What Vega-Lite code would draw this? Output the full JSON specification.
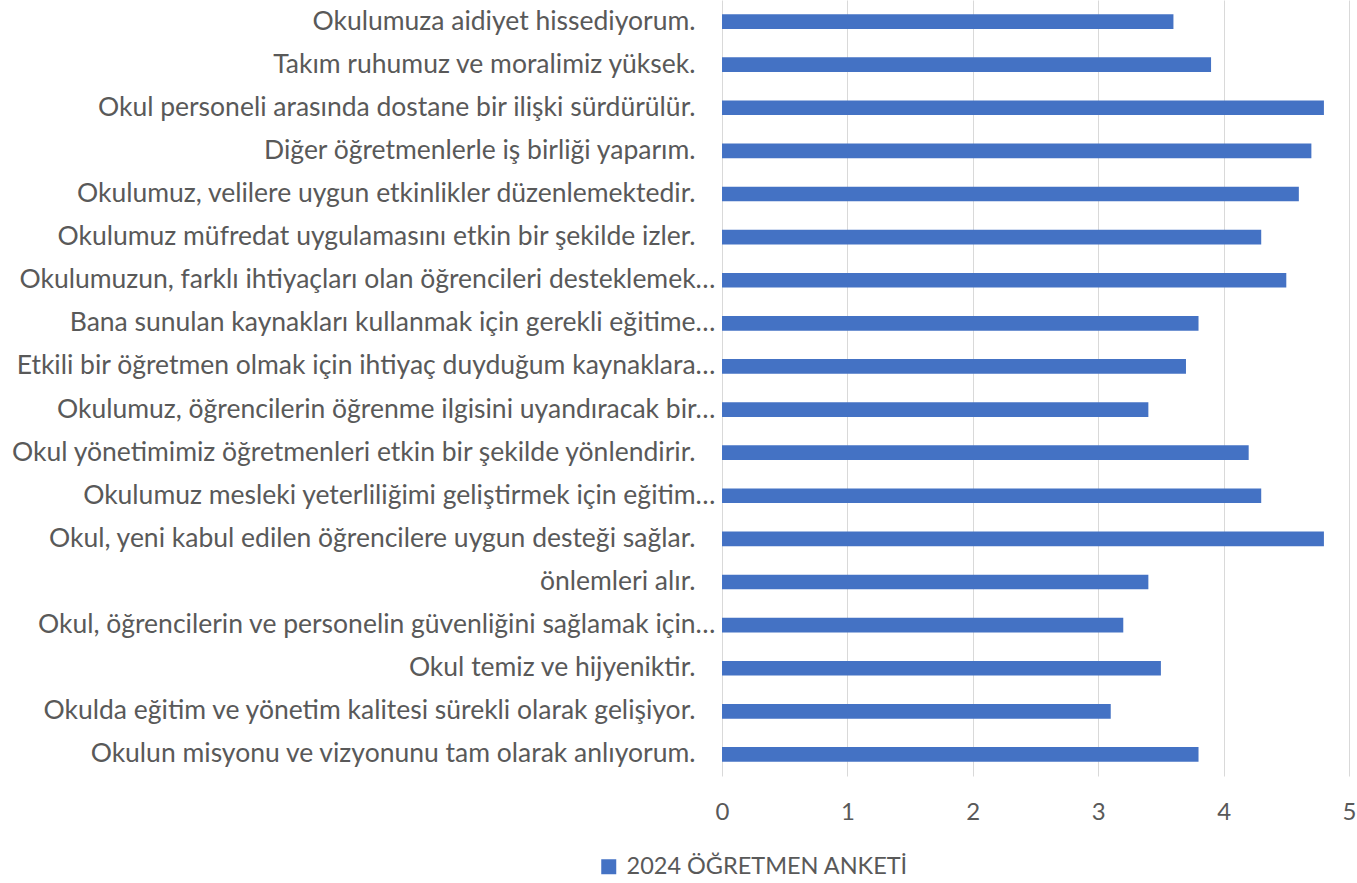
{
  "$schema": "https://vega.github.io/schema/vega-lite/v6.json",
  "width": 627,
  "height": 776,
  "autosize": {"type": "none"},
  "padding": {"left": 722, "top": 0, "right": 8, "bottom": 107},
  "background": "white",
  "config": {"view": {"stroke": null}, "font": "Lato"},
  "data": {
    "values": [
      {"soru": "Okulumuza aidiyet hissediyorum.", "puan": 3.6, "seri": "2024 ÖĞRETMEN ANKETİ"},
      {"soru": "Takım ruhumuz ve moralimiz yüksek.", "puan": 3.9, "seri": "2024 ÖĞRETMEN ANKETİ"},
      {"soru": "Okul personeli arasında dostane bir ilişki sürdürülür.", "puan": 4.8, "seri": "2024 ÖĞRETMEN ANKETİ"},
      {"soru": "Diğer öğretmenlerle iş birliği yaparım.", "puan": 4.7, "seri": "2024 ÖĞRETMEN ANKETİ"},
      {"soru": "Okulumuz, velilere uygun etkinlikler düzenlemektedir.", "puan": 4.6, "seri": "2024 ÖĞRETMEN ANKETİ"},
      {"soru": "Okulumuz müfredat uygulamasını etkin bir şekilde izler.", "puan": 4.3, "seri": "2024 ÖĞRETMEN ANKETİ"},
      {"soru": "Okulumuzun, farklı ihtiyaçları olan öğrencileri desteklemek…", "puan": 4.5, "seri": "2024 ÖĞRETMEN ANKETİ"},
      {"soru": "Bana sunulan kaynakları kullanmak için gerekli eğitime…", "puan": 3.8, "seri": "2024 ÖĞRETMEN ANKETİ"},
      {"soru": "Etkili bir öğretmen olmak için ihtiyaç duyduğum kaynaklara…", "puan": 3.7, "seri": "2024 ÖĞRETMEN ANKETİ"},
      {"soru": "Okulumuz, öğrencilerin öğrenme ilgisini uyandıracak bir…", "puan": 3.4, "seri": "2024 ÖĞRETMEN ANKETİ"},
      {"soru": "Okul yönetimimiz öğretmenleri etkin bir şekilde yönlendirir.", "puan": 4.2, "seri": "2024 ÖĞRETMEN ANKETİ"},
      {"soru": "Okulumuz mesleki yeterliliğimi geliştirmek için eğitim…", "puan": 4.3, "seri": "2024 ÖĞRETMEN ANKETİ"},
      {"soru": "Okul, yeni kabul edilen öğrencilere uygun desteği sağlar.", "puan": 4.8, "seri": "2024 ÖĞRETMEN ANKETİ"},
      {"soru": "önlemleri alır.", "puan": 3.4, "seri": "2024 ÖĞRETMEN ANKETİ"},
      {"soru": "Okul, öğrencilerin ve personelin güvenliğini sağlamak için…", "puan": 3.2, "seri": "2024 ÖĞRETMEN ANKETİ"},
      {"soru": "Okul temiz ve hijyeniktir.", "puan": 3.5, "seri": "2024 ÖĞRETMEN ANKETİ"},
      {"soru": "Okulda eğitim ve yönetim kalitesi sürekli olarak gelişiyor.", "puan": 3.1, "seri": "2024 ÖĞRETMEN ANKETİ"},
      {"soru": "Okulun misyonu ve vizyonunu tam olarak anlıyorum.", "puan": 3.8, "seri": "2024 ÖĞRETMEN ANKETİ"}
    ]
  },
  "mark": {"type": "bar"},
  "encoding": {
    "y": {
      "field": "soru",
      "type": "nominal",
      "sort": null,
      "scale": {"paddingInner": 0.66, "paddingOuter": 0.33},
      "axis": {
        "title": null,
        "domain": false,
        "ticks": false,
        "grid": false,
        "labelLimit": 1000,
        "labelFont": "Lato",
        "labelFontSize": 26.5,
        "labelColor": "#595959",
        "labelPadding": {"condition": {"test": "indexof(datum.value, '…') >= 0", "value": 7}, "value": 27}
      }
    },
    "x": {
      "field": "puan",
      "type": "quantitative",
      "scale": {"domain": [0, 5], "nice": false},
      "axis": {
        "title": null,
        "values": [0, 1, 2, 3, 4, 5],
        "domain": false,
        "ticks": false,
        "grid": true,
        "gridColor": "#d9d9d9",
        "gridWidth": 1,
        "labelFlush": false,
        "labelFont": "Lato",
        "labelFontSize": 24,
        "labelColor": "#595959",
        "labelPadding": 24
      }
    },
    "color": {
      "field": "seri",
      "type": "nominal",
      "scale": {"range": ["#4472C4"]},
      "legend": {
        "title": null,
        "orient": "none",
        "legendX": -125,
        "legendY": 855,
        "symbolType": "square",
        "symbolSize": 225,
        "symbolStrokeWidth": 0,
        "labelLimit": 1000,
        "labelFont": "Lato",
        "labelFontSize": 23.5,
        "labelColor": "#595959",
        "labelOffset": 6
      }
    }
  }
}
